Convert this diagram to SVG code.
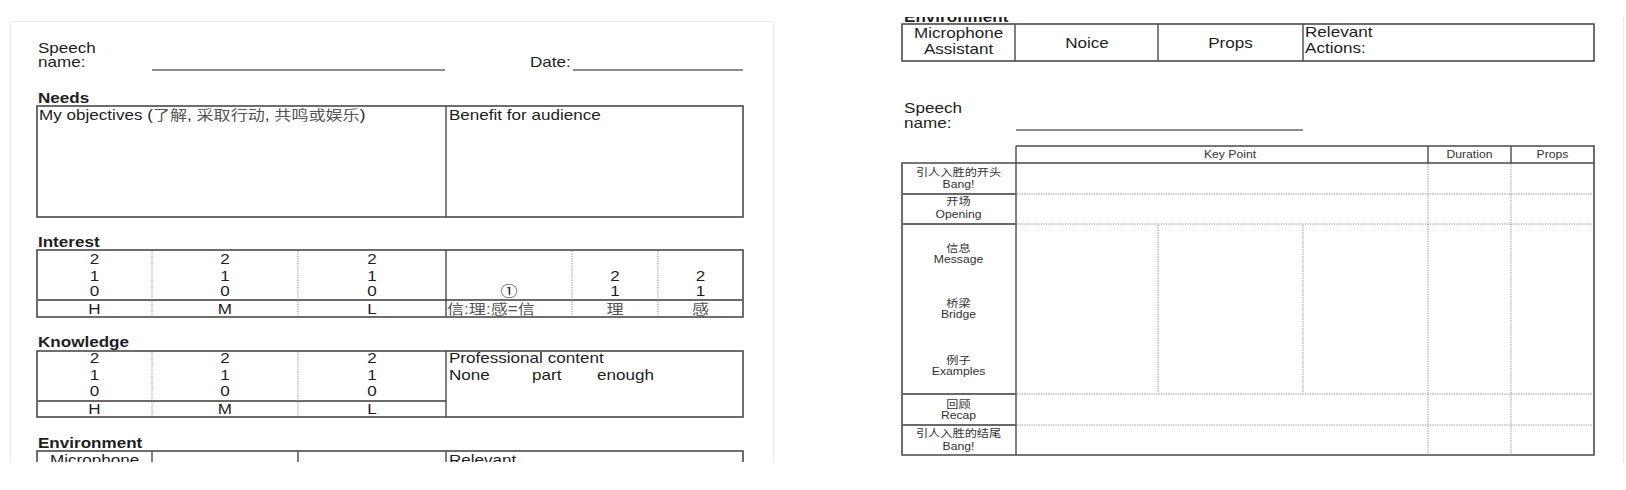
<svg xmlns="http://www.w3.org/2000/svg" width="1626" height="490" viewBox="0 0 1626 490">
<style>
.t{font-family:"Liberation Sans",Arial,"Noto Sans CJK SC",sans-serif;font-size:14px;fill:#1e1e1e}
.b{font-weight:bold}
.c{text-anchor:middle}
.s{font-size:10px;fill:#333}
.zh{fill:#555}
.box{fill:none;stroke:#4a4a4a;stroke-width:1.6}
.ln{stroke:#4a4a4a;stroke-width:1.4;fill:none}
.mid{stroke:#6a6a6a;stroke-width:2;fill:none}
.dot{stroke:#8a8a8a;stroke-width:1;stroke-dasharray:1.2 1.2;fill:none}
.ul{stroke:#666;stroke-width:1.5}
.edge{stroke:#ececec;stroke-width:1;fill:none}
</style>
<defs>
<clipPath id="clipL"><rect x="10" y="21" width="764" height="441"/></clipPath>
<clipPath id="clipR"><rect x="880" y="17" width="744" height="446"/></clipPath>
</defs>
<rect width="1626" height="490" fill="#ffffff"/>

<g id="left-card" clip-path="url(#clipL)">
  <path class="edge" d="M10.5 463V21.5H773.5V463"/>
  <g id="header-left">
    <line class="ul" x1="152" y1="70" x2="445" y2="70"/>
    <line class="ul" x1="573" y1="70" x2="743" y2="70"/>
    <g transform="scale(1.22 1)">
      <text class="t" x="31.1" y="53">Speech</text>
      <text class="t" x="31.1" y="67.5">name:</text>
      <text class="t" x="434.4" y="67.5">Date:</text>
    </g>
  </g>
  <g id="needs">
    <rect class="box" x="37" y="106" width="706" height="111"/>
    <line class="ln" x1="446" y1="106" x2="446" y2="217"/>
    <g transform="scale(1.22 1)">
      <text class="t b" x="31.1" y="103">Needs</text>
      <text class="t" x="32" y="120">My objectives (<tspan class="zh">了解</tspan>, <tspan class="zh">采取行动</tspan>, <tspan class="zh">共鸣或娱乐</tspan>)</text>
      <text class="t" x="368" y="120">Benefit for audience</text>
    </g>
  </g>
  <g id="interest">
    <rect class="box" x="37" y="250" width="706" height="67"/>
    <line class="mid" x1="37" y1="300" x2="743" y2="300"/>
    <line class="dot" x1="152" y1="251" x2="152" y2="316"/>
    <line class="dot" x1="298" y1="251" x2="298" y2="316"/>
    <line class="ln" x1="446" y1="250" x2="446" y2="317"/>
    <line class="dot" x1="572" y1="251" x2="572" y2="316"/>
    <line class="dot" x1="658" y1="251" x2="658" y2="316"/>
    <g transform="scale(1.22 1)">
      <text class="t b" x="31.1" y="247">Interest</text>
      <text class="t c" x="77.5" y="264">2</text><text class="t c" x="77.5" y="281">1</text><text class="t c" x="77.5" y="296">0</text><text class="t c" x="77.5" y="314">H</text>
      <text class="t c" x="184.4" y="264">2</text><text class="t c" x="184.4" y="281">1</text><text class="t c" x="184.4" y="296">0</text><text class="t c" x="184.4" y="314">M</text>
      <text class="t c" x="304.9" y="264">2</text><text class="t c" x="304.9" y="281">1</text><text class="t c" x="304.9" y="296">0</text><text class="t c" x="304.9" y="314">L</text>
      <text class="t c" x="417.2" y="296">①</text>
      <text class="t c" x="504.1" y="281">2</text><text class="t c" x="504.1" y="296">1</text><text class="t c zh" x="504.1" y="314">理</text>
      <text class="t c" x="574.2" y="281">2</text><text class="t c" x="574.2" y="296">1</text><text class="t c zh" x="574.2" y="314">感</text>
      <text class="t zh" x="366.4" y="314">信:理:感=信</text>
    </g>
  </g>
  <g id="knowledge">
    <rect class="box" x="37" y="351" width="706" height="66"/>
    <line class="mid" x1="37" y1="401" x2="446" y2="401"/>
    <line class="dot" x1="152" y1="352" x2="152" y2="416"/>
    <line class="dot" x1="298" y1="352" x2="298" y2="416"/>
    <line class="ln" x1="446" y1="351" x2="446" y2="417"/>
    <g transform="scale(1.22 1)">
      <text class="t b" x="31.1" y="347">Knowledge</text>
      <text class="t c" x="77.5" y="363">2</text><text class="t c" x="77.5" y="380">1</text><text class="t c" x="77.5" y="396">0</text><text class="t c" x="77.5" y="414">H</text>
      <text class="t c" x="184.4" y="363">2</text><text class="t c" x="184.4" y="380">1</text><text class="t c" x="184.4" y="396">0</text><text class="t c" x="184.4" y="414">M</text>
      <text class="t c" x="304.9" y="363">2</text><text class="t c" x="304.9" y="380">1</text><text class="t c" x="304.9" y="396">0</text><text class="t c" x="304.9" y="414">L</text>
      <text class="t" x="368" y="363">Professional content</text>
      <text class="t" x="368" y="380">None</text>
      <text class="t" x="436.1" y="380">part</text>
      <text class="t" x="489.3" y="380">enough</text>
    </g>
  </g>
  <g id="environment-left">
    <rect class="box" x="37" y="451" width="706" height="40"/>
    <line class="ln" x1="152" y1="451" x2="152" y2="491"/>
    <line class="ln" x1="298" y1="451" x2="298" y2="491"/>
    <line class="ln" x1="446" y1="451" x2="446" y2="491"/>
    <g transform="scale(1.22 1)">
      <text class="t b" x="31.1" y="448">Environment</text>
      <text class="t c" x="77.5" y="465">Microphone</text>
      <text class="t" x="368" y="465">Relevant</text>
    </g>
  </g>
</g>

<g id="right-card" clip-path="url(#clipR)">
  <line class="edge" x1="1623.5" y1="17" x2="1623.5" y2="463"/>
  <g id="environment-right">
    <rect class="box" x="902" y="24" width="692" height="37"/>
    <line class="ln" x1="1015" y1="24" x2="1015" y2="61"/>
    <line class="ln" x1="1158" y1="24" x2="1158" y2="61"/>
    <line class="ln" x1="1303" y1="24" x2="1303" y2="61"/>
    <g transform="scale(1.22 1)">
      <text class="t b" x="741" y="22">Environment</text>
      <text class="t c" x="785.7" y="38">Microphone</text>
      <text class="t c" x="785.7" y="54">Assistant</text>
      <text class="t c" x="891" y="48">Noice</text>
      <text class="t c" x="1008.6" y="48">Props</text>
      <text class="t" x="1069.7" y="37">Relevant</text>
      <text class="t" x="1069.7" y="53">Actions:</text>
    </g>
  </g>
  <g id="speech-name-right">
    <line class="ul" x1="1016" y1="130" x2="1303" y2="130"/>
    <g transform="scale(1.22 1)">
      <text class="t" x="741" y="113">Speech</text>
      <text class="t" x="741" y="128">name:</text>
    </g>
  </g>
  <g id="key-table">
    <line class="dot" x1="1017" y1="194" x2="1593" y2="194"/>
    <line class="dot" x1="1017" y1="224" x2="1593" y2="224"/>
    <line class="dot" x1="1017" y1="394" x2="1593" y2="394"/>
    <line class="dot" x1="1017" y1="425" x2="1593" y2="425"/>
    <line class="dot" x1="1428" y1="164" x2="1428" y2="454"/>
    <line class="dot" x1="1511" y1="164" x2="1511" y2="454"/>
    <line class="dot" x1="1158" y1="225" x2="1158" y2="393"/>
    <line class="dot" x1="1303" y1="225" x2="1303" y2="393"/>
    <path class="box" d="M1016 146H1594V455H902V163H1594"/>
    <line class="ln" x1="1016" y1="146" x2="1016" y2="455"/>
    <line class="ln" x1="1428" y1="146" x2="1428" y2="163"/>
    <line class="ln" x1="1511" y1="146" x2="1511" y2="163"/>
    <line class="mid" x1="902" y1="194" x2="1016" y2="194"/>
    <line class="mid" x1="902" y1="224" x2="1016" y2="224"/>
    <line class="mid" x1="902" y1="394" x2="1016" y2="394"/>
    <line class="mid" x1="902" y1="425" x2="1016" y2="425"/>
    <g transform="scale(1.22 1)">
      <text class="t s c" x="1008.2" y="158">Key Point</text>
      <text class="t s c" x="1204.5" y="158">Duration</text>
      <text class="t s c" x="1272.5" y="158">Props</text>
      <text class="t s c" x="785.7" y="176">引人入胜的开头</text>
      <text class="t s c" x="785.7" y="188">Bang!</text>
      <text class="t s c" x="785.7" y="205">开场</text>
      <text class="t s c" x="785.7" y="218">Opening</text>
      <text class="t s c" x="785.7" y="252">信息</text>
      <text class="t s c" x="785.7" y="263">Message</text>
      <text class="t s c" x="785.7" y="307">桥梁</text>
      <text class="t s c" x="785.7" y="318">Bridge</text>
      <text class="t s c" x="785.7" y="364">例子</text>
      <text class="t s c" x="785.7" y="375">Examples</text>
      <text class="t s c" x="785.7" y="408">回顾</text>
      <text class="t s c" x="785.7" y="419">Recap</text>
      <text class="t s c" x="785.7" y="437">引人入胜的结尾</text>
      <text class="t s c" x="785.7" y="450">Bang!</text>
    </g>
  </g>
</g>
</svg>
